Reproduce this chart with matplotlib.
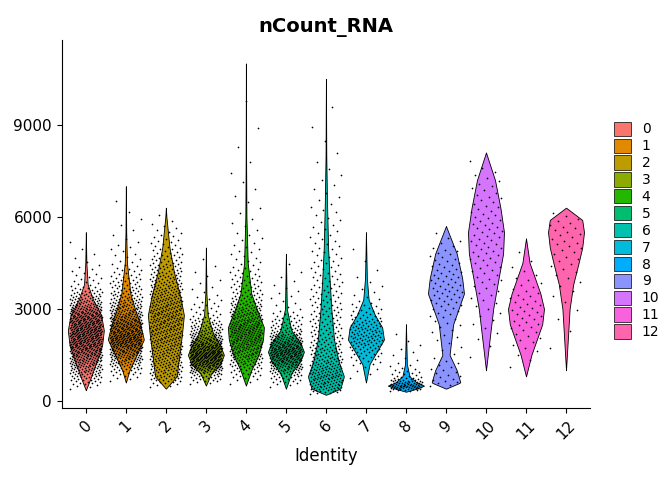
import numpy as np
import matplotlib.pyplot as plt
from matplotlib.patches import Patch

clusters = ['0', '1', '2', '3', '4', '5', '6', '7', '8', '9', '10', '11', '12']
colors = ['#F8766D', '#E18A00', '#BE9C00', '#8CAB00', '#24B700', '#00BE70', '#00C1AB',
          '#00BBDA', '#00ACFC', '#8B93FF', '#D575FE', '#F962DD', '#FF65AC']

# violin outline: y levels and relative half-widths
prof_y = [
    [350, 800, 1300, 1800, 2300, 2800, 3300, 3800, 4500, 5500],
    [600, 1000, 1500, 2000, 2500, 3000, 3500, 4500, 5500, 7000],
    [400, 800, 1500, 2200, 2800, 3400, 4200, 5000, 6000, 6300],
    [500, 900, 1200, 1500, 1800, 2200, 2800, 3500, 5000],
    [500, 1000, 1500, 2000, 2400, 3000, 3500, 4500, 6000, 8000, 11000],
    [400, 900, 1300, 1600, 1900, 2300, 3000, 4800],
    [200, 400, 800, 1300, 2000, 3000, 4000, 5000, 6500, 8000, 10500],
    [600, 1200, 1600, 2000, 2400, 2800, 3300, 4000, 5500],
    [300, 400, 500, 600, 800, 1200, 2500],
    [400, 600, 1000, 1500, 2500, 3000, 3500, 4000, 4800, 5700],
    [1000, 2000, 3000, 4000, 4800, 5500, 6300, 7200, 8100],
    [800, 1500, 2000, 2500, 3000, 3500, 4000, 4500, 5300],
    [1000, 2000, 3000, 3800, 4500, 5000, 5500, 5900, 6300],
]
prof_w = [
    [0, .3, .6, .9, 1, .85, .4, .1, .03, 0],
    [0, .2, .6, 1, .8, .5, .25, .06, .02, 0],
    [0, .6, .75, .9, 1, .8, .45, .2, .03, 0],
    [0, .3, .8, 1, .8, .4, .1, .03, 0],
    [0, .3, .7, .95, 1, .6, .3, .1, .03, .01, 0],
    [0, .3, .8, 1, .8, .3, .05, 0],
    [0, .8, 1, .7, .45, .3, .2, .12, .06, .02, 0],
    [0, .2, .6, 1, .9, .5, .15, .05, 0],
    [0, .6, 1, .6, .2, .05, 0],
    [0, .8, .6, .2, .4, .7, 1, .9, .6, 0],
    [0, .2, .4, .7, .95, 1, .8, .5, 0],
    [0, .3, .6, .9, 1, .8, .5, .2, 0],
    [0, .1, .2, .4, .7, .9, 1, .9, 0],
]
n_cells = [700, 600, 550, 500, 450, 400, 350, 150, 100, 100, 90, 50, 40]

fig, ax = plt.subplots(figsize=(6.72, 4.8), dpi=100)
fig.subplots_adjust(left=0.092, right=0.878, top=0.917, bottom=0.15)

for i in range(len(clusters)):
    ys = np.linspace(prof_y[i][0], prof_y[i][-1], 200)
    ws = np.interp(ys, prof_y[i], prof_w[i]) * 0.45
    ax.fill_betweenx(ys, i - ws, i + ws, facecolor=colors[i], edgecolor='black', lw=0.6, zorder=1)
    # cells placed at density quantiles, spread across the jitter band
    cdf = np.cumsum(ws)
    cdf = cdf / cdf[-1]
    q = (np.arange(n_cells[i]) + 0.5) / n_cells[i]
    py = np.interp(q, cdf, ys)
    px = i + ((np.arange(n_cells[i]) * 0.618034) % 1) * 0.8 - 0.4
    ax.scatter(px, py, s=1.5, c='black', lw=0, zorder=2)

ax.set_xlim(-0.6, len(clusters) - 0.4)
ax.set_ylim(-230, 11770)
ax.set_xticks(range(len(clusters)))
ax.set_xticklabels(clusters, rotation=45)
ax.set_yticks([0, 3000, 6000, 9000])
ax.tick_params(labelsize=11, colors='black')
for s in ['top', 'right']:
    ax.spines[s].set_visible(False)
ax.set_xlabel('Identity', fontsize=12)
ax.set_title('nCount_RNA', fontsize=14, fontweight='bold')

handles = [Patch(facecolor=c, edgecolor='black', lw=0.5) for c in colors]
fig.legend(handles, clusters, loc='center left', bbox_to_anchor=(0.895, 0.52),
           frameon=False, fontsize=10, handlelength=1.2, handleheight=1.2,
           labelspacing=0.15)

fig.savefig('out.png')
